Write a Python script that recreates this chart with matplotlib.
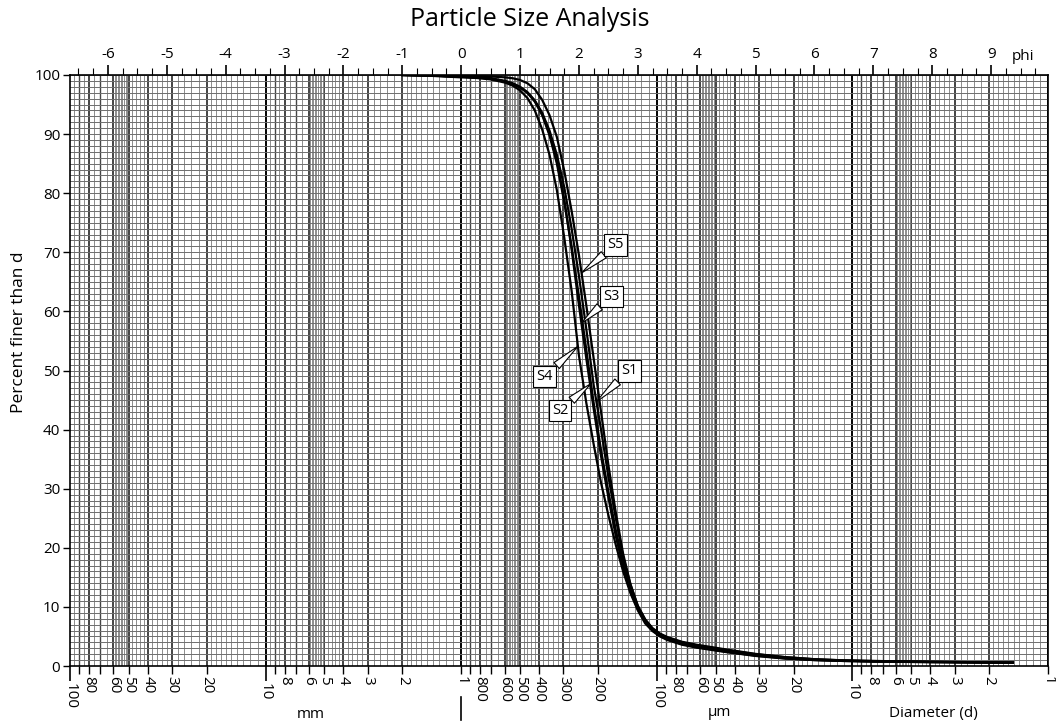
import numpy as np
import matplotlib
matplotlib.use('Agg')
import matplotlib.pyplot as plt
import matplotlib.transforms as mtransforms

plt.rcParams['font.family'] = ['Open Sans', 'DejaVu Sans']

# sieve classes (phi units) and percent finer
phi = [-1, -0.5, 0, 0.25, 0.5, 0.75, 0.875, 1.0, 1.125, 1.25, 1.375, 1.5, 1.625,
       1.75, 1.875, 2.0, 2.125, 2.25, 2.375, 2.5, 2.625, 2.75, 2.875, 3.0, 3.125,
       3.25, 3.375, 3.5, 3.75, 4.0, 4.5, 5.0, 5.5, 6.0, 6.5, 7.0, 8.0, 9.0, 9.37]
s1 = [100, 99.9, 99.75, 99.65, 99.45, 99.0, 98.6, 98.0, 97.1, 95.7, 93.6, 90.6, 86.5,
      81.0, 74.0, 66.0, 57.0, 47.5, 40.0, 32.0, 25.0, 18.5, 13.8, 10.2, 7.9,
      6.4, 5.5, 4.9, 4.1, 3.6, 2.8, 2.05, 1.5, 1.15, 0.95, 0.85, 0.72, 0.62, 0.6]
s2 = [100, 99.9, 99.7, 99.6, 99.4, 98.9, 98.5, 97.9, 97.0, 95.5, 93.2, 89.8, 85.0,
      78.5, 71.0, 62.5, 53.5, 44.5, 36.5, 29.5, 23.0, 17.5, 13.0, 9.8, 7.5,
      6.1, 5.2, 4.6, 3.8, 3.3, 2.5, 1.85, 1.35, 1.05, 0.9, 0.8, 0.68, 0.6, 0.57]
s3 = [100, 99.9, 99.7, 99.6, 99.4, 98.9, 98.5, 97.9, 97.0, 95.6, 93.5, 90.0, 85.5,
      79.0, 70.5, 61.0, 52.0, 43.5, 35.5, 28.5, 22.0, 16.8, 12.6, 9.6, 7.4,
      6.0, 5.1, 4.5, 3.7, 3.2, 2.4, 1.75, 1.3, 1.0, 0.85, 0.75, 0.65, 0.58, 0.55]
s4 = [100, 99.85, 99.6, 99.5, 99.25, 98.7, 98.2, 97.4, 96.1, 94.0, 90.8, 86.5, 80.5,
      72.5, 63.5, 52.5, 44.5, 37.5, 31.0, 25.5, 20.5, 16.0, 12.3, 9.4, 7.2,
      5.9, 5.0, 4.4, 3.6, 3.1, 2.35, 1.7, 1.25, 1.0, 0.85, 0.75, 0.65, 0.58, 0.55]
s5 = [100, 99.95, 99.85, 99.8, 99.75, 99.6, 99.45, 99.15, 98.6, 97.6, 95.8, 93.2, 89.5,
      83.8, 77.0, 69.5, 61.0, 52.0, 43.0, 34.0, 26.0, 19.0, 13.8, 10.1, 7.8,
      6.3, 5.4, 4.8, 4.0, 3.5, 2.7, 2.0, 1.5, 1.15, 0.95, 0.85, 0.72, 0.62, 0.6]
samples = {'S1': s1, 'S2': s2, 'S3': s3, 'S4': s4, 'S5': s5}

# where each label points (percent finer) and where its box sits (pixel offset)
label_at = {'S5': 66.5, 'S3': 58.0, 'S4': 54.1, 'S1': 44.7, 'S2': 47.8}
label_off = {'S5': (34, 28), 'S3': (30, 27), 'S4': (-33, -30), 'S1': (33, 31), 'S2': (-31, -27)}

# bottom axis labels
mm_ticks = [100, 80, 60, 50, 40, 30, 20, 10, 8, 6, 5, 4, 3, 2, 1]
um_ticks = [800, 600, 500, 400, 300, 200, 100, 80, 60, 50, 40, 30, 20, 10, 8, 6, 5, 4, 3, 2, 1]
phi_ticks = list(range(-6, 10))

d_mm = 2.0 ** (-np.array(phi, dtype=float))

fig = plt.figure(figsize=(10.56, 7.27), dpi=100)
W, H = 1056, 727
ax = fig.add_axes([70 / W, 1 - 666 / H, (1048 - 70) / W, (666 - 75) / H])
ax.set_xscale('log')
ax.set_xlim(100, 0.001)
ax.set_ylim(0, 100)

# log paper grid
fine = list(np.arange(1.0, 2.0, 0.1)) + list(np.arange(2.0, 5.0, 0.2)) + \
       list(np.arange(5.0, 6.0, 0.1)) + list(np.arange(6.0, 10.0, 0.5))
for k in range(-3, 2):
    for m in fine:
        mr = round(m, 2)
        d = mr * 10.0 ** k
        if abs(mr - round(mr)) < 1e-6:
            if int(round(mr)) == 1:
                c, lw = 'black', 1.4
            elif int(round(mr)) in (7, 9):
                c, lw = '#444444', 1.0
            else:
                c, lw = '#111111', 1.1
        else:
            c, lw = '#8c8c8c', 0.7
        ax.axvline(d, color=c, lw=lw, zorder=1)
for p in range(0, 101):
    ax.axhline(p, color='#6e6e6e', lw=0.7, zorder=1)

for name, vals in samples.items():
    ax.plot(d_mm, vals, color='black', lw=1.6, zorder=3)

for name, pct in label_at.items():
    vals = samples[name]
    # invert the curve to find the diameter at that percent
    ph = np.interp(pct, vals[::-1], phi[::-1])
    ax.annotate(name, xy=(2.0 ** -ph, pct), xytext=label_off[name],
                textcoords='offset pixels', ha='center', va='center', fontsize=10.5,
                bbox=dict(boxstyle='square,pad=0.22', fc='white', ec='black', lw=0.8),
                arrowprops=dict(arrowstyle='wedge,tail_width=0.55', fc='white',
                                ec='black', lw=0.8, shrinkA=0, shrinkB=0),
                zorder=5)

# bottom ticks
ticks = [t for t in mm_ticks] + [t / 1000 for t in um_ticks]
labels = [str(t) for t in mm_ticks] + [str(t) for t in um_ticks]
major = [i for i, l in enumerate(labels) if l in ('100', '10')]
minor = [i for i in range(len(labels)) if i not in major]
ax.set_xticks([ticks[i] for i in major])
ax.set_xticklabels([labels[i] for i in major], rotation=-90, fontsize=11)
extra = [m * 10.0 ** k for k in range(-3, 2) for m in (7, 9)]
ax.set_xticks([ticks[i] for i in minor] + extra, minor=True)
ax.set_xticklabels([labels[i] for i in minor] + [''] * len(extra), minor=True,
                   rotation=-90, fontsize=11)
ax.tick_params(axis='x', which='major', length=11, width=1.2, pad=1)
ax.tick_params(axis='x', which='minor', length=6, width=1.0, pad=1)

ax.set_yticks(range(0, 101, 10))
ax.tick_params(axis='y', length=5, width=1, labelsize=11, pad=2)
for s in ax.spines.values():
    s.set_linewidth(1.2)

# separator below the 1 mm tick
trans = mtransforms.blended_transform_factory(ax.transData, ax.transAxes)
ax.plot([1, 1], [(666 - 697) / 591, (666 - 720) / 591], color='black', lw=1.2,
        transform=trans, clip_on=False)

# phi scale on top
ax2 = ax.twiny()
ax2.set_xlim(-np.log2(100), -np.log2(0.001))
ax2.set_xticks(phi_ticks)
ax2.set_xticklabels([str(t) for t in phi_ticks], fontsize=11)
ax2.set_xticks(np.arange(-6.5, 10, 0.25), minor=True)
ax2.tick_params(axis='x', which='major', length=7, width=1.2, pad=2)
ax2.tick_params(axis='x', which='minor', length=5, width=0.8)
for s in ax2.spines.values():
    s.set_visible(False)

fig.text(530 / W, 1 - 20 / H, 'Particle Size Analysis', fontsize=18, ha='center', va='center')
fig.text(1023 / W, 1 - 57 / H, 'phi', fontsize=11, ha='center', va='center')
fig.text(19 / W, 1 - 332 / H, 'Percent finer than d', fontsize=12.5, rotation=90,
         ha='center', va='center')
fig.text(311 / W, 1 - 715 / H, 'mm', fontsize=11, ha='center', va='center')
fig.text(719 / W, 1 - 713 / H, 'µm', fontsize=11, ha='center', va='center')
fig.text(933 / W, 1 - 713 / H, 'Diameter (d)', fontsize=11, ha='center', va='center')

fig.savefig('out.png', dpi=100)
